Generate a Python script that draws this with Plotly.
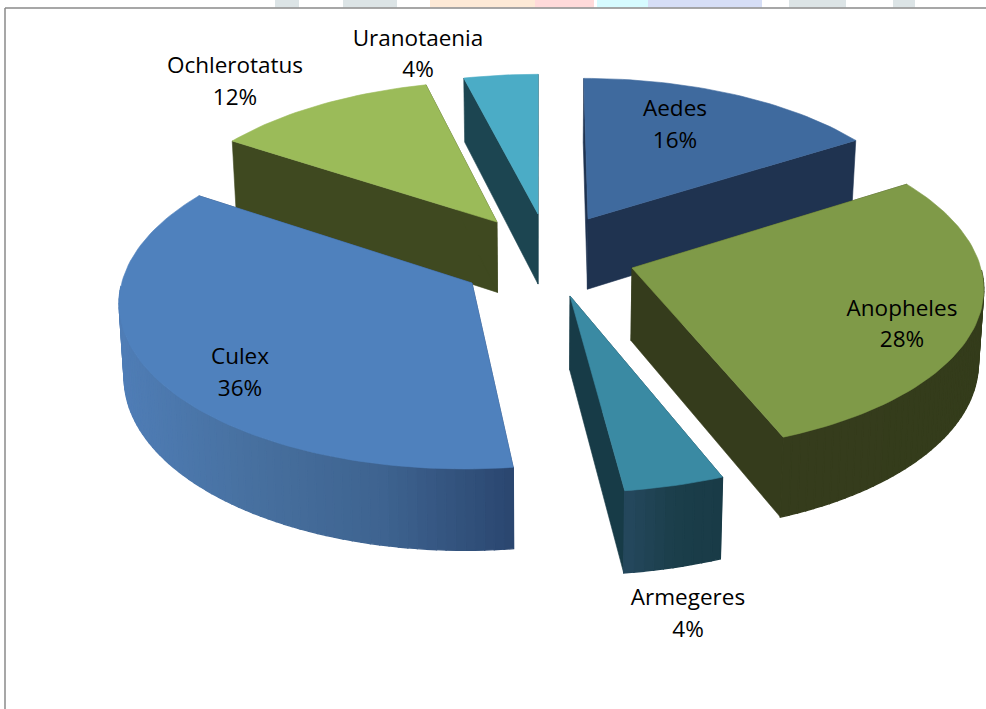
import math
import plotly.graph_objects as go

categories = ["Aedes", "Anopheles", "Armegeres", "Culex", "Ochlerotatus", "Uranotaenia"]
values = [16, 28, 4, 36.3, 11.8, 3.9]

# styling / layout config
TOP = ["#3F6A9E", "#7F9A48", "#3A8AA3", "#4F81BD", "#9BBB59", "#4BACC6"]
CUT = ["#1F3350", "#353C1C", "#173B47", "#2C4770", "#3F4920", "#1C4551"]
WALL_STOPS = [
    ["#1F3350", "#1F3350"],
    ["#353C1C", "#343C1B"],
    ["#25485E", "#1B3E4A", "#193B47"],
    ["#4F7DB6", "#47709F", "#3E6390", "#2A466F"],
    ["#3F4920", "#3F4920"],
    ["#1C4551", "#1C4551"],
]
EXPLODE = [(.1426, -.247), (.265, .0613), (.085, .229), (-.194, .152), (-.1275, -.227), (-.006, -.279)]
RADIUS = [1, 1.005, 1.035, 1, 1, 1]
DRAW_ORDER = [5, 4, 0, 3, 1, 2]
LABEL_NAME_XY = [(675, 110), (902, 310), (688, 599), (240, 358), (235, 67), (418, 40)]
LABEL_PCT_XY = [(675, 142), (902, 341), (688, 631), (240, 390), (235, 99), (418, 71)]
CX, CY, R, A, K, DEPTH, SHRINK = 540, 258, 345, 162, .1, 72, .012
W, H = 986, 709


def project(u, v, z=0):
    s = 1 / (1 - K * v)
    return CX + R * u * s * (1 - SHRINK * z), CY + A * v * s + DEPTH * z * s


def rim(i, a):
    return EXPLODE[i][0] + RADIUS[i] * math.sin(a), EXPLODE[i][1] - RADIUS[i] * math.cos(a)


def ramp(stops, t):
    t = max(0, min(1, t)) * (len(stops) - 1)
    k = min(int(t), len(stops) - 2)
    f = t - k
    a = [int(stops[k][j:j + 2], 16) for j in (1, 3, 5)]
    b = [int(stops[k + 1][j:j + 2], 16) for j in (1, 3, 5)]
    return "#%02X%02X%02X" % tuple(round(x + (y - x) * f) for x, y in zip(a, b))


def poly(fig, pts, color, lw=.6):
    xs = [p[0] for p in pts] + [pts[0][0]]
    ys = [p[1] for p in pts] + [pts[0][1]]
    fig.add_trace(go.Scatter(x=xs, y=ys, mode="lines", fill="toself", fillcolor=color,
                             line=dict(color=color, width=lw), hoverinfo="skip", showlegend=False))


fig = go.Figure()
total = sum(values)
starts = [sum(values[:i]) / total * 2 * math.pi for i in range(len(values))]
ends = [sum(values[:i + 1]) / total * 2 * math.pi for i in range(len(values))]

for i in DRAW_ORDER:
    a0, a1 = starts[i], ends[i]
    apex = EXPLODE[i]
    n = max(8, int((a1 - a0) * 40))
    angles = [a0 + (a1 - a0) * j / n for j in range(n + 1)]
    # cut faces
    for a in (a0, a1):
        u, v = rim(i, a)
        poly(fig, [project(*apex), project(u, v), project(u, v, 1), project(*apex, 1)], CUT[i])
    # outer wall, shaded left to right, only the part facing the viewer
    front = [a for a in angles if math.pi / 2 <= a <= 3 * math.pi / 2]
    if len(front) > 1:
        xs = [project(*rim(i, a))[0] for a in front]
        lo, hi = min(xs), max(xs)
        for j in range(len(front) - 1):
            t = ((xs[j] + xs[j + 1]) / 2 - lo) / (hi - lo)
            p, q = rim(i, front[j]), rim(i, front[j + 1])
            poly(fig, [project(*p), project(*q), project(*q, 1), project(*p, 1)], ramp(WALL_STOPS[i], t), 1.4)
    # top face
    poly(fig, [project(*apex)] + [project(*rim(i, a)) for a in angles], TOP[i])

font = dict(family="Open Sans, Lato, sans-serif", size=22.5, color="#000000")
fig.add_trace(go.Scatter(x=[p[0] for p in LABEL_NAME_XY], y=[p[1] for p in LABEL_NAME_XY], mode="text",
                         text=categories, textposition="middle center", textfont=font,
                         hoverinfo="skip", showlegend=False))
fig.add_trace(go.Scatter(x=[p[0] for p in LABEL_PCT_XY], y=[p[1] for p in LABEL_PCT_XY], mode="text",
                         text=[f"{round(v / total * 100)}%" for v in values], textposition="middle center",
                         textfont=font, hoverinfo="skip", showlegend=False))

shapes = [
    dict(type="line", x0=5, x1=W, y0=8, y1=8, line=dict(color="#8A8A8A", width=1.5), layer="above"),
    dict(type="line", x0=5, x1=5, y0=8, y1=H, line=dict(color="#8A8A8A", width=1.5), layer="above"),
]
for x0, x1, c in [(275, 299, "#DCE4E6"), (343, 397, "#DCE4E6"), (430, 535, "#FDE9D6"), (535, 594, "#FFDADA"),
                  (597, 648, "#D6FBFF"), (648, 762, "#D6DEF6"), (789, 846, "#DCE4E6"), (893, 915, "#DCE4E6")]:
    shapes.append(dict(type="rect", x0=x0, x1=x1, y0=0, y1=7.5, line=dict(width=0), fillcolor=c, layer="below"))

fig.update_layout(
    width=W, height=H, margin=dict(l=0, r=0, t=0, b=0), paper_bgcolor="white", plot_bgcolor="white",
    xaxis=dict(range=[0, W], visible=False, fixedrange=True),
    yaxis=dict(range=[H, 0], visible=False, fixedrange=True),
    shapes=shapes, showlegend=False,
)
fig.write_html("out.html", config=dict(displayModeBar=False),
               post_script="document.body.style.margin='0';document.body.style.overflow='hidden';")
